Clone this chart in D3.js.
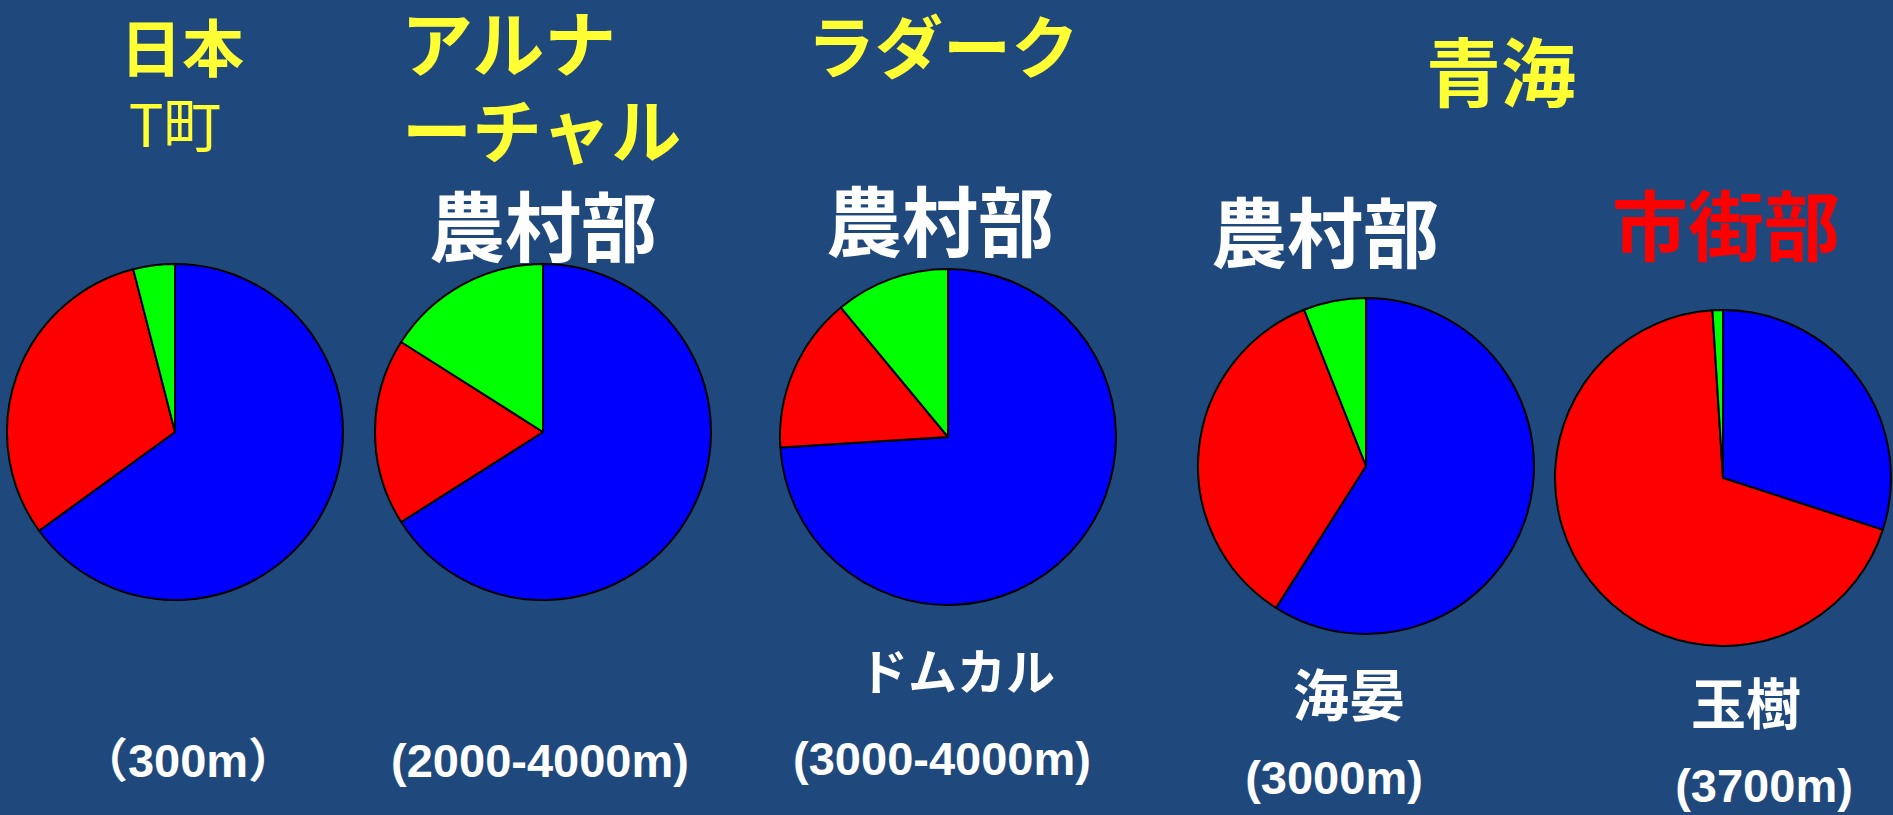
<!DOCTYPE html>
<html>
<head>
<meta charset="utf-8">
<script src="https://cdn.jsdelivr.net/npm/d3@7"></script>
<style>
  html, body { margin: 0; padding: 0; background: #1F497D; }
  svg { display: block; }
</style>
</head>
<body>
<svg id="chart" width="1893" height="815"></svg>
<script>
// Land-use shares (%) per site, in slice order: blue, red, green
const sites      = ["T町", "アルナーチャル", "ドムカル", "海晏", "玉樹"];
const blueShare  = [65, 66, 74, 59, 30];
const redShare   = [31, 18, 15, 35, 69];
const greenShare = [4, 16, 11, 6, 1];
const sliceColors = ["#0000FF", "#FF0000", "#00FF00"];

// Text drawn on the slide
const altitudeLabels = ["（300m）", "(2000-4000m)", "(3000-4000m)", "(3000m)", "(3700m)"];
const zoneLabels     = ["", "農村部", "農村部", "農村部", "市街部"];
const zoneIsUrban    = [false, false, false, false, true];
const siteLabels     = ["", "", "ドムカル", "海晏", "玉樹"];
const regionLines    = [["日本", "T町"], ["アルナ", "ーチャル"], ["ラダーク"], ["青海"]];

// Layout (pixel positions of each pie slot and its text)
const layout = {
  pieX: [175, 543, 948, 1366, 1723],
  pieY: [432, 432, 437, 466, 478],
  radius: 168,
  zoneX: [0, 543, 940, 1325, 1726],
  zoneY: [0, 256, 251, 262, 255],
  siteX: [0, 0, 957, 1349, 1746],
  siteY: [0, 0, 690, 716, 724],
  siteSize: [0, 0, 49, 56, 55],
  altX: [188, 540, 942, 1334, 1764],
  altY: [777, 777, 775, 794, 802]
};

const svg = d3.select("#chart");
const cjk = "'Noto Sans CJK JP', 'Noto Sans CJK SC', sans-serif";
const latin = "'Liberation Sans', Arial, 'Noto Sans CJK JP', sans-serif";

const pie = d3.pie().sort(null).value(d => d);
const arc = d3.arc().innerRadius(0).outerRadius(layout.radius);

sites.forEach((name, i) => {
  const values = [blueShare[i], redShare[i], greenShare[i]];
  const g = svg.append("g")
    .attr("class", "pie")
    .attr("transform", `translate(${layout.pieX[i]},${layout.pieY[i]})`);
  g.selectAll("path")
    .data(pie(values))
    .join("path")
    .attr("d", arc)
    .attr("fill", (d, j) => sliceColors[j])
    .attr("stroke", "#000")
    .attr("stroke-width", 2)
    .attr("stroke-linejoin", "round");
});

// Region titles (yellow); multi-line titles are one text element with tspans
const yellow = "#FFFF33";
const titles = [
  { lines: [
      { text: regionLines[0][0], x: 182, y: 72, size: 62, weight: 700 },
      { text: regionLines[0][1], x: 175, y: 147, size: 58, weight: 400 }
    ], anchor: "middle" },
  { lines: [
      { text: regionLines[1][0], x: 401, y: 71, size: 72, weight: 700 },
      { text: regionLines[1][1], x: 402, y: 158, size: 70, weight: 700 }
    ], anchor: "start" },
  { lines: [
      { text: regionLines[2][0], x: 943, y: 73, size: 68, weight: 700 }
    ], anchor: "middle" },
  { lines: [
      { text: regionLines[3][0], x: 1501, y: 101, size: 75, weight: 700 }
    ], anchor: "middle" }
];
const titleText = svg.selectAll("text.region")
  .data(titles)
  .join("text")
  .attr("class", "region")
  .attr("text-anchor", d => d.anchor)
  .attr("font-family", cjk)
  .attr("fill", yellow);
titleText.selectAll("tspan")
  .data(d => d.lines)
  .join("tspan")
  .attr("x", d => d.x)
  .attr("y", d => d.y)
  .attr("font-size", d => d.size)
  .attr("font-weight", d => d.weight)
  .text(d => d.text);

// Zone labels: rural (white) / urban (red)
svg.selectAll("text.zone")
  .data(zoneLabels.map((t, i) => ({ t, i })).filter(d => d.t))
  .join("text")
  .attr("class", "zone")
  .attr("x", d => layout.zoneX[d.i])
  .attr("y", d => layout.zoneY[d.i])
  .attr("text-anchor", "middle")
  .attr("font-family", cjk)
  .attr("font-size", 76)
  .attr("font-weight", 700)
  .attr("fill", d => zoneIsUrban[d.i] ? "#FF0000" : "#FFFFFF")
  .text(d => d.t);

// Site names under the pies
svg.selectAll("text.site")
  .data(siteLabels.map((t, i) => ({ t, i })).filter(d => d.t))
  .join("text")
  .attr("class", "site")
  .attr("x", d => layout.siteX[d.i])
  .attr("y", d => layout.siteY[d.i])
  .attr("text-anchor", "middle")
  .attr("font-family", cjk)
  .attr("font-size", d => layout.siteSize[d.i])
  .attr("font-weight", 700)
  .attr("fill", "#FFFFFF")
  .text(d => d.t);

// Altitude labels
svg.selectAll("text.alt")
  .data(altitudeLabels.map((t, i) => ({ t, i })))
  .join("text")
  .attr("class", "alt")
  .attr("x", d => layout.altX[d.i])
  .attr("y", d => layout.altY[d.i])
  .attr("text-anchor", "middle")
  .attr("font-family", latin)
  .attr("font-size", 47)
  .attr("font-weight", 700)
  .attr("fill", "#FFFFFF")
  .text(d => d.t);
</script>
</body>
</html>
